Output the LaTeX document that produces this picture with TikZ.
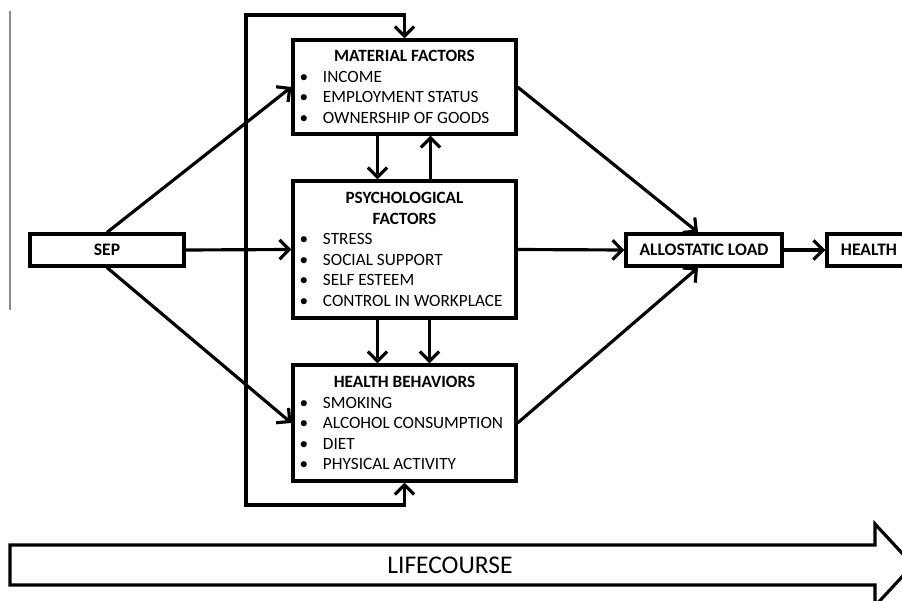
\documentclass[tikz,border=0pt]{standalone}
\usepackage{fontspec}
\setmainfont{Carlito}
\usepackage{tikz}
\usetikzlibrary{arrows.meta, positioning, calc}
\usepackage{xcolor}
\definecolor{edge}{RGB}{0, 0, 0}
\definecolor{rulegray}{RGB}{140, 140, 140}
\newcommand{\itm}{\makebox[0.47cm][l]{\textbullet}}
\newcommand{\ttl}[1]{\makebox[\linewidth][c]{\textbf{#1}}}
\tikzset{
    factor/.style={rectangle, draw=edge, line width=1.8pt, fill=white, minimum width=4.46cm, text width=4.2cm, inner xsep=0.13cm, align=flush left, font=\fontsize{9.8}{11.7}\selectfont},
    labelbox/.style={rectangle, draw=edge, line width=1.8pt, fill=white, minimum height=0.64cm, inner sep=0pt, align=center, font=\fontsize{10}{12}\selectfont\bfseries},
    arrow/.style={line width=1.8pt, -{Straight Barb[length=5.5pt,width=11pt]}, edge},
    biarrow/.style={line width=1.8pt, {Straight Barb[length=5.5pt,width=11pt]}-{Straight Barb[length=5.5pt,width=11pt]}, edge},
    bigarrow/.style={line width=1.8pt, draw=edge, fill=white, line join=miter}
}
\begin{document}
\begin{tikzpicture}[]
    \useasboundingbox (0,0) rectangle (18.04,12);
    % thin rule on the left
    \draw[rulegray, line width=0.7pt] (0.2,11.78) -- (0.2,5.8);
    \node[labelbox, minimum width=3.08cm] (sep) at (2.14, 7.0) {SEP};
    \node[factor, minimum height=1.88cm] (material) at (8.09, 10.26) {\ttl{MATERIAL FACTORS}\\ \itm INCOME\\ \itm EMPLOYMENT STATUS\\ \itm OWNERSHIP OF GOODS};
    \node[factor, minimum height=2.74cm] (psych) at (8.09, 7.01) {\ttl{PSYCHOLOGICAL}\\ \ttl{FACTORS}\\ \itm STRESS\\ \itm SOCIAL SUPPORT\\ \itm SELF ESTEEM\\ \itm CONTROL IN WORKPLACE};
    \node[factor, minimum height=2.32cm] (behav) at (8.09, 3.54) {\ttl{HEALTH BEHAVIORS}\\ \itm SMOKING\\ \itm ALCOHOL CONSUMPTION\\ \itm DIET\\ \itm PHYSICAL ACTIVITY};
    \node[labelbox, minimum width=3.12cm] (load) at (14.08, 7.0) {ALLOSTATIC LOAD};
    \node[labelbox, minimum width=1.68cm] (health) at (17.38, 7.0) {HEALTH};
    % feedback loop
    \coordinate (looptop) at (4.92, 11.7);
    \coordinate (loopbot) at (4.92, 1.9);
    \draw[biarrow] (material.north) |- (looptop) -- (loopbot) -| (behav.south);
    % from SEP
    \draw[arrow] (sep.north) -- (material.west);
    \draw[arrow] (sep.east) -- (psych.west);
    \draw[arrow] (sep.south) -- (behav.west);
    % between the factors
    \draw[arrow] ([xshift=-0.54cm]material.south) -- ([xshift=-0.54cm]psych.north);
    \draw[arrow] ([xshift=0.52cm]psych.north) -- ([xshift=0.52cm]material.south);
    \draw[arrow] ([xshift=-0.54cm]psych.south) -- ([xshift=-0.54cm]behav.north);
    \draw[arrow] ([xshift=0.5cm]psych.south) -- ([xshift=0.5cm]behav.north);
    % to allostatic load
    \draw[arrow] (material.east) -- ([xshift=-0.12cm]load.north);
    \draw[arrow] (psych.east) -- (load.west);
    \draw[arrow] (behav.east) -- ([xshift=-0.12cm]load.south);
    \draw[arrow] (load.east) -- (health.west);
    % lifecourse arrow
    \draw[bigarrow] (0.2,1.1) -- (17.5,1.1) -- (17.5,1.52) -- (18.26,0.7) -- (17.5,-0.12) -- (17.5,0.3) -- (0.2,0.3) -- cycle;
    \node[font=\fontsize{14.5}{16}\selectfont] (lifecourse) at (9.0, 0.7) {LIFECOURSE};
\end{tikzpicture}
\end{document}
